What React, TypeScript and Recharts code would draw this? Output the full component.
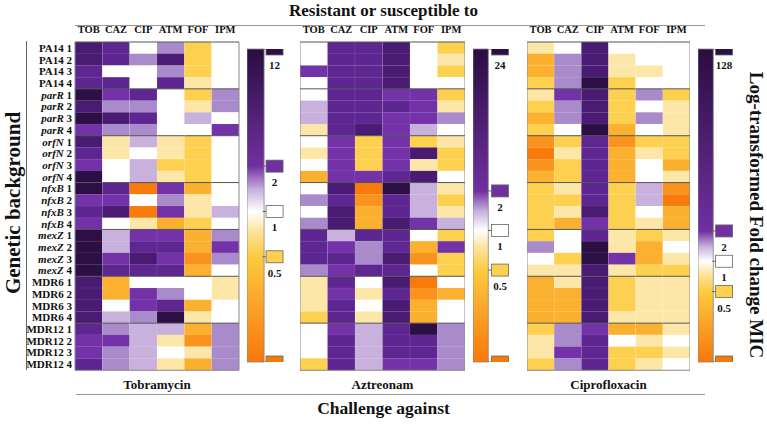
import React from 'react'
import { Bar, BarChart, ReferenceArea, Scatter, ScatterChart, XAxis, YAxis } from 'recharts'

// drug columns and strains (rows)
const COLS = ['TOB', 'CAZ', 'CIP', 'ATM', 'FOF', 'IPM']
const STRAINS = ['PA14', 'parR', 'orfN', 'nfxB', 'mexZ', 'MDR6', 'MDR12']
const REPLICATES = [1, 2, 3, 4]
const ITALIC = ['parR', 'orfN', 'nfxB', 'mexZ']

// fold change level
// -5 = strongest decrease (deep orange) ... 0 = unchanged (white) ... 6 = strongest increase (darkest purple)
const tobramycin = [
  [5, 4, 0, 2, -2, 0], [5, 4, 2, 5, -2, 0], [4, 0, 0, 2, -2, 0], [4, 4, 0, 4, -1, 0],
  [6, 3, 4, 0, -2, 2], [5, 2, 2, 0, -1, 2], [6, 5, 4, 0, 1, 0], [3, 2, 2, 0, 0, 3],
  [5, -1, 1, -1, -2, 0], [4, -1, 0, -1, -2, 0], [3, 0, 1, -2, -2, 0], [6, 0, 1, -1, -2, 0],
  [6, 4, -5, 3, -3, 0], [3, 3, 0, 2, -1, 0], [4, 5, -5, 3, -1, 1], [3, 0, -1, -3, -2, 0],
  [6, 1, 3, 3, -3, 2], [6, 1, 4, 4, -3, 3], [6, 3, 5, 3, -4, 2], [6, 4, 4, 4, -3, 0],
  [5, -3, 0, 0, 0, -1], [5, -3, 3, 2, 0, -1], [5, 0, 3, 4, -3, 0], [5, 1, 2, 6, -1, 0],
  [4, 2, 1, 1, -3, 2], [3, 3, 1, -1, -4, 2], [3, 2, 1, 0, -1, 2], [4, 2, 1, -1, -3, 2],
]
const aztreonam = [
  [0, 4, 4, 5, 0, -2], [0, 4, 4, 5, 0, -1], [3, 4, 4, 5, 0, -2], [0, 4, 4, 5, 0, 0],
  [0, 4, 4, 3, 3, -2], [1, 4, 4, 4, 3, -1], [1, 4, 4, 3, 3, 2], [-1, 4, 5, 3, 1, 0],
  [0, 3, -2, 3, -2, -1], [-1, 3, -2, 3, 5, -2], [0, 3, -2, 3, -1, -2], [-3, 3, 3, 4, 5, 0],
  [0, 5, -5, 6, 1, -1], [2, 4, -4, 4, 1, -2], [0, 5, -3, 4, 1, -1], [2, 5, -3, 5, 3, 1],
  [4, 1, 4, 4, 0, -2], [4, 3, 2, 4, -3, 3], [4, 4, 2, 5, -4, -2], [2, 3, 4, 4, 0, -2],
  [-1, 4, 0, 5, -5, 0], [-1, 3, -1, 4, -4, -3], [-1, 4, 0, 5, -3, 0], [-2, 4, -1, 5, -3, 0],
  [0, 3, 1, 4, 6, 2], [0, 4, 1, 4, 4, 2], [0, 4, 1, 4, 4, 2], [-2, 4, 1, 3, 3, 2],
]
const ciprofloxacin = [
  [-1, 0, 5, 0, 0, 0], [-3, 2, 5, -1, 0, 0], [-3, 2, 5, -1, -1, 0], [-2, 2, 6, -2, 0, 0],
  [-1, 3, 5, -2, 2, -2], [-2, 2, 5, -2, 0, -1], [-3, 2, 5, -2, 2, -1], [-2, 0, 6, -3, 0, -1],
  [-4, -2, 4, -4, -2, -2], [-5, -1, 4, -3, -1, -2], [-4, -2, 4, -3, 0, -3], [-3, -2, 4, -3, 0, -1],
  [-2, -1, 4, -2, 1, -4], [-2, -2, 4, -2, 1, -5], [-2, -1, 5, -2, 0, -3], [-2, -3, 3, -2, -1, -3],
  [-2, 0, 4, -1, -2, -1], [2, 0, 6, -1, -3, 0], [0, -2, 6, 3, -3, -1], [-1, -1, 5, -1, -2, -2],
  [-3, -1, 5, -2, -1, -1], [-3, -3, 5, -2, -1, -1], [-3, -3, 5, -2, -1, -1], [-3, -3, 5, -1, -1, -1],
  [-2, 2, 3, -3, -3, -1], [-1, 2, 4, 0, -1, 0], [-1, 3, 4, -2, -2, -1], [-2, 2, 4, -2, -1, 0],
]

// colour bar ticks
const SCALE_TOB = [12, 2, 1, 0.5, 0.1]
const SCALE_AZT = [24, 2, 1, 0.5, 0.1]
const SCALE_CIP = [128, 2, 1, 0.5, 0.1]

const PALETTE: Record<number, string> = {
  [-5]: '#f77a0b', [-4]: '#f9931d', [-3]: '#fbb12f', [-2]: '#fdd04f', [-1]: '#fde7a8',
  0: '#ffffff', 1: '#c8b1dd', 2: '#a98aca', 3: '#7332a8', 4: '#5e2690', 5: '#491b73', 6: '#2c0f44',
}
const SWATCH: Record<number, string> = { 2: '#7030a0', 1: '#ffffff', 0.5: '#fdd04f', 0.1: '#f57a0a' }

const FONT = '"Liberation Serif", "Times New Roman", serif'
const unit = () => 1

const buildRows = (values: number[][]) =>
  STRAINS.flatMap((s, si) =>
    REPLICATES.map((r, ri) => {
      const row: any = { label: `${s} ${r}`, row: si * 4 + ri }
      COLS.forEach((c, ci) => { row[c] = values[si * 4 + ri][ci] })
      return row
    })
  )

const cellShape = (ci: number) => (props: any) => {
  const { x, y, width, height, payload } = props
  const r = payload.row
  const fill = PALETTE[payload[COLS[ci]]]
  return (
    <g>
      <rect x={x} y={y} width={width} height={height} fill={fill} stroke="rgba(255,255,255,0.12)" strokeWidth={0.6} />
      {r % 4 === 0 && <line x1={x} x2={x + width} y1={y} y2={y} stroke="#555" strokeWidth={1} />}
      {r === 27 && <line x1={x} x2={x + width} y1={y + height} y2={y + height} stroke="#888" strokeWidth={1} />}
      {ci === 0 && <line x1={x} x2={x} y1={y} y2={y + height} stroke="#888" strokeWidth={1} />}
      {ci === 5 && <line x1={x + width} x2={x + width} y1={y} y2={y + height} stroke="#888" strokeWidth={1} />}
    </g>
  )
}

const RowTick = ({ x, y, payload }: any) => {
  const [name, num] = String(payload.value).split(' ')
  return (
    <text x={x} y={y} dy={4} textAnchor="end" fontSize={11} fontWeight="bold" fill="#111" fontFamily={FONT}>
      <tspan fontStyle={ITALIC.includes(name) ? 'italic' : 'normal'}>{name}</tspan>
      <tspan fontStyle="normal"> {num}</tspan>
    </text>
  )
}

function Heatmap({ values, left, width, labels, title }: { values: number[][]; left: number; width: number; labels?: boolean; title: string }) {
  const rows = buildRows(values)
  return (
    <div style={{ position: 'absolute', left, top: 0 }}>
      <BarChart width={width} height={424} data={rows} layout="vertical" barCategoryGap={0} barGap={0}
        margin={{ top: 28, right: labels ? 1 : 0, bottom: 54, left: 0 }}>
        <XAxis type="number" domain={[0, 6]} orientation="top" ticks={[0.5, 1.5, 2.5, 3.5, 4.5, 5.5]}
          tickFormatter={(v: number) => COLS[Math.floor(v)]} axisLine={false} tickLine={false} height={14}
          tickMargin={3} interval={0}
          tick={{ fontSize: 10.5, fontWeight: 'bold', fill: '#111', fontFamily: FONT }} />
        <YAxis type="category" dataKey="label" hide={!labels} width={75} axisLine={false} tickLine={false}
          tickSize={0} interval={0} tick={<RowTick />} tickMargin={3} />
        {COLS.map((c, ci) => (
          <Bar key={c} dataKey={unit} stackId="cells" isAnimationActive={false} shape={cellShape(ci)} />
        ))}
      </BarChart>
      <div style={{ position: 'absolute', left: labels ? 75 : 0, width: labels ? width - 76 : width, top: 377,
        textAlign: 'center', fontFamily: FONT, fontWeight: 'bold', fontSize: 13, color: '#111' }}>{title}</div>
    </div>
  )
}

function ColorBar({ ticks, left, id, barW, swatchX }: { ticks: number[]; left: number; id: string; barW: number; swatchX: number }) {
  const max = ticks[0]
  const L = (v: number) => (Math.log10(max) - Math.log10(v)) / (Math.log10(max) + 1)
  const pts = ticks.map(t => ({ x: swatchX, y: t, label: String(t), color: t === max ? '#2c0f44' : SWATCH[t] }))
  const swatch = (p: any) => {
    const { cx, cy, payload } = p
    return (
      <g>
        <line x1={cx - 12} x2={cx - 8.5} y1={cy} y2={cy} stroke="#666" />
        <rect x={cx - 8.5} y={cy - 6} width={17} height={12} fill={payload.color} stroke="#666" strokeWidth={0.8} />
        <text x={cx} y={cy + 20} textAnchor="middle" fontSize={11} fontWeight="bold" fill="#111" fontFamily={FONT}>{payload.label}</text>
      </g>
    )
  }
  return (
    <div style={{ position: 'absolute', left, top: 0 }}>
      <ScatterChart width={60} height={424} margin={{ top: 49, right: 24, bottom: 62, left: 0 }}>
        <defs>
          <linearGradient id={id} x1="0" y1="0" x2="0" y2="1">
            <stop offset={0} stopColor="#2a0d40" />
            <stop offset={L(2)} stopColor="#7030a0" />
            <stop offset={L(1.4)} stopColor="#c7b0dc" />
            <stop offset={L(1)} stopColor="#ffffff" />
            <stop offset={L(0.75)} stopColor="#fde4a0" />
            <stop offset={L(0.5)} stopColor="#fccb3e" />
            <stop offset={L(0.25)} stopColor="#fba52a" />
            <stop offset={1} stopColor="#f7780a" />
          </linearGradient>
        </defs>
        <XAxis type="number" dataKey="x" domain={[0, 2]} hide />
        <YAxis type="number" dataKey="y" scale="log" domain={[0.1, max]} hide allowDataOverflow />
        <ReferenceArea x1={0} x2={barW} y1={0.1} y2={max} fill={`url(#${id})`} fillOpacity={1} stroke="#888" strokeWidth={0.8} />
        <Scatter data={pts} shape={swatch} isAnimationActive={false} />
      </ScatterChart>
    </div>
  )
}

export default function App() {
  const bold = { fontFamily: FONT, fontWeight: 'bold' as const, color: '#111' }
  return (
    <div style={{ position: 'absolute', left: 0, top: 0, width: 767, height: 424, background: '#fff', overflow: 'hidden' }}>
      <div style={{ ...bold, position: 'absolute', left: 0, width: 767, top: 1, textAlign: 'center', fontSize: 17 }}>
        Resistant or susceptible to
      </div>
      <div style={{ position: 'absolute', left: 75, width: 630, top: 25, borderTop: '1px solid #999' }} />
      <div style={{ position: 'absolute', left: 26, top: 41, height: 329, borderLeft: '1px solid #666' }} />

      <Heatmap values={tobramycin} left={0} width={240} labels title="Tobramycin" />
      <ColorBar ticks={SCALE_TOB} left={247} id="gTob" barW={0.95} swatchX={1.53} />
      <Heatmap values={aztreonam} left={300} width={165} title="Aztreonam" />
      <ColorBar ticks={SCALE_AZT} left={473} id="gAzt" barW={0.85} swatchX={1.5} />
      <Heatmap values={ciprofloxacin} left={527} width={163} title="Ciprofloxacin" />
      <ColorBar ticks={SCALE_CIP} left={698} id="gCip" barW={0.85} swatchX={1.45} />

      <div style={{ position: 'absolute', left: 76, width: 629, top: 394, borderTop: '1px solid #999' }} />
      <div style={{ ...bold, position: 'absolute', left: 0, width: 767, top: 398, textAlign: 'center', fontSize: 17.5 }}>
        Challenge against
      </div>
      <div style={{ ...bold, position: 'absolute', left: 13, top: 203, fontSize: 21, whiteSpace: 'nowrap',
        transform: 'translate(-50%, -50%) rotate(-90deg)' }}>
        Genetic background
      </div>
      <div style={{ ...bold, position: 'absolute', left: 756, top: 215, fontSize: 19, whiteSpace: 'nowrap',
        transform: 'translate(-50%, -50%) rotate(90deg)' }}>
        Log-transformed Fold change MIC
      </div>
    </div>
  )
}
